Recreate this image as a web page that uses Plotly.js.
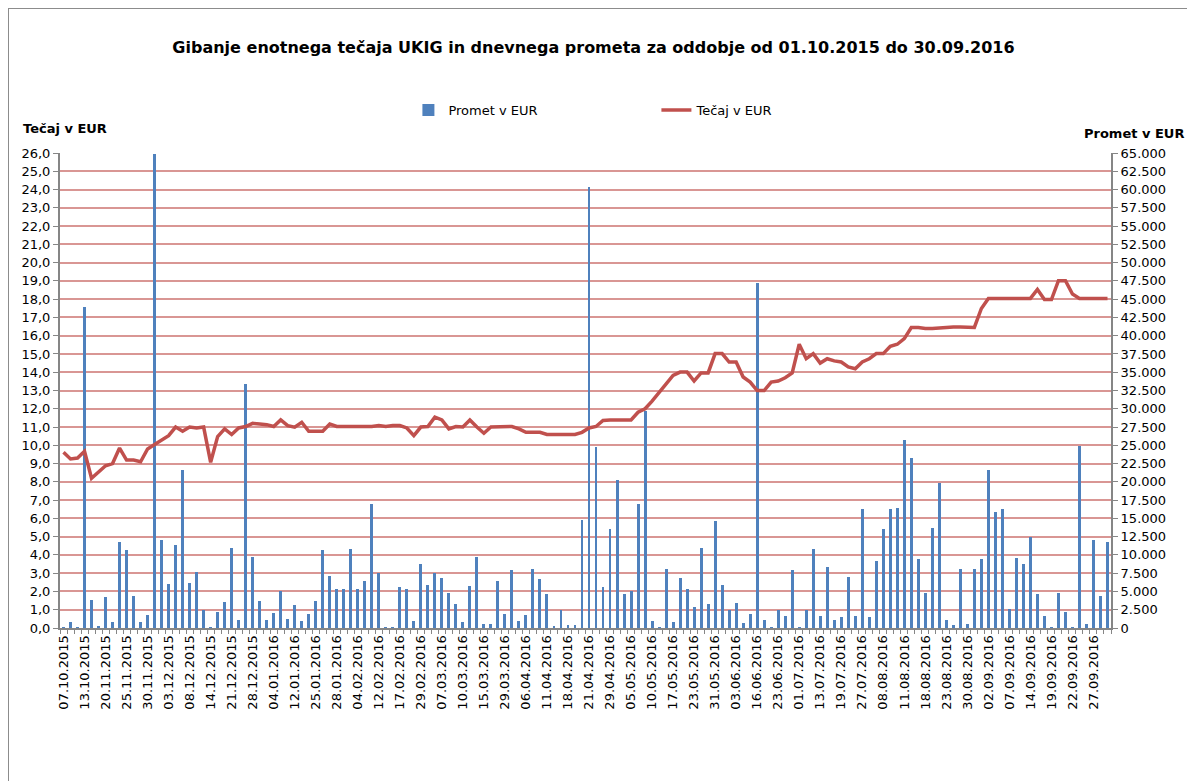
<!DOCTYPE html>
<html>
<head>
<meta charset="utf-8">
<script src="https://cdn.plot.ly/plotly-3.0.1.min.js"></script>
<style>
  html, body { margin: 0; padding: 0; background: #fff; }
  #chart { width: 1187px; height: 781px; }
  #frame { position: absolute; left: 8px; top: 8px; width: 1300px; height: 900px;
           border: 1px solid #8c8c8c; pointer-events: none; }
</style>
</head>
<body>
<div id="chart"></div>
<div id="frame"></div>
<script>
// Tick labels (every 3rd trading day)
const dateLabels = [
  "07.10.2015","13.10.2015","20.11.2015","25.11.2015","30.11.2015","03.12.2015","08.12.2015","14.12.2015","21.12.2015","28.12.2015",
  "04.01.2016","12.01.2016","25.01.2016","28.01.2016","04.02.2016","12.02.2016","17.02.2016","29.02.2016","07.03.2016","10.03.2016",
  "15.03.2016","29.03.2016","06.04.2016","11.04.2016","18.04.2016","21.04.2016","29.04.2016","05.05.2016","10.05.2016","17.05.2016",
  "23.05.2016","31.05.2016","03.06.2016","16.06.2016","23.06.2016","01.07.2016","13.07.2016","19.07.2016","27.07.2016","08.08.2016",
  "11.08.2016","18.08.2016","23.08.2016","30.08.2016","02.09.2016","07.09.2016","14.09.2016","19.09.2016","22.09.2016","27.09.2016"
];
const labelEvery = 3;

// Promet v EUR (daily turnover)
const promet = [
  200, 800, 150, 43900, 3900, 300, 4200, 800, 11800, 10700, 4400, 800, 1800, 64800, 12100, 6000, 11300, 21600, 6200, 7700,
  2500, 100, 2200, 3600, 11000, 1100, 33400,
  9750, 3750, 1150, 2060, 5130, 1280, 3110, 1000, 1920, 3750, 10670, 7100, 5400, 5400, 10850, 5400, 6500, 16940, 7560,
  100, 100, 5590, 5270, 1000, 8700,
  5950, 7560, 6820, 4810, 3300, 820, 5720, 9750, 550, 550, 6500, 1920, 7870, 1000, 1740, 8010, 6640, 4670, 230, 2520,
  370, 370, 14790, 60350, 24820, 5590,
  13600, 20240, 4670, 5130, 16940, 29670, 920, 100, 8010, 820, 6780, 5270, 2840, 10990, 3300, 14650, 5860, 2520, 3430, 690,
  1920, 47250, 1140, 100, 2520, 1600,
  7870, 100, 2520, 10850, 1600, 8380, 1140, 1470, 7000, 1600, 16250, 1470, 9160, 13600, 16350, 16480, 25730, 23260, 9480, 4810,
  13740, 19780, 1140, 370, 8010,
  550, 8010, 9390, 21660, 15890, 16350, 2660, 9520, 8790, 12450, 4670, 1600, 100, 4810, 2200, 100, 24950, 550, 12040, 4350, 11770
];

// Tečaj v EUR (unit price)
const tecaj = [
  9.62, 9.25, 9.30, 9.67, 8.20, 8.55, 8.88, 9.00, 9.85, 9.19, 9.19, 9.10, 9.80, 10.04, 10.30, 10.53, 11.00, 10.77, 11.00, 10.95,
  11.00, 9.07, 10.48, 10.90, 10.59, 10.95, 11.03,
  11.20, 11.17, 11.13, 11.03, 11.39, 11.08, 10.99, 11.26, 10.77, 10.77, 10.77, 11.17, 11.03, 11.03, 11.03, 11.03, 11.03, 11.03, 11.08,
  11.03, 11.08, 11.08, 10.95, 10.53, 11.00,
  11.03, 11.54, 11.39, 10.90, 11.03, 11.00, 11.39, 11.00, 10.66, 11.00, 11.00, 11.03, 11.03, 10.90, 10.71, 10.71, 10.71, 10.59, 10.59, 10.59,
  10.59, 10.59, 10.71, 10.95, 11.03, 11.36,
  11.39, 11.39, 11.39, 11.39, 11.81, 12.00, 12.42, 12.91, 13.41, 13.83, 14.01, 14.01, 13.52, 13.96, 13.96, 15.02, 15.02, 14.56, 14.56, 13.74,
  13.46, 13.00, 13.00, 13.46, 13.52, 13.70,
  13.96, 15.53, 14.74, 15.02, 14.50, 14.74, 14.62, 14.56, 14.29, 14.19, 14.56, 14.74, 15.02, 15.02, 15.42, 15.53, 15.84, 16.45, 16.45, 16.39,
  16.39, 16.43, 16.45, 16.48, 16.48,
  16.45, 16.45, 17.49, 18.04, 18.04, 18.04, 18.04, 18.04, 18.04, 18.04, 18.53, 17.98, 17.98, 19.01, 19.01, 18.28, 18.04, 18.04, 18.04, 18.04, 18.04
];

const idx = promet.map((_, i) => i);
const tickPos = dateLabels.map((_, k) => k * labelEvery);

const FONT = "DejaVu Sans, Verdana, sans-serif";
const GRID = "rgb(217,150,148)";
const AXIS = "#868686";

const traces = [
  {
    type: "bar", name: "Promet v EUR", x: idx, y: promet, yaxis: "y",
    width: 0.42, marker: { color: "#4F81BD", line: { width: 0 } },
    hoverinfo: "y"
  },
  {
    type: "scatter", mode: "lines", name: "Tečaj v EUR", x: idx, y: tecaj, yaxis: "y2",
    line: { color: "#C0504D", width: 3.5 }
  }
];

const layout = {
  width: 1187, height: 781,
  paper_bgcolor: "#fff", plot_bgcolor: "#fff",
  separators: ",.",
  font: { family: FONT, size: 13, color: "#000" },
  margin: { l: 60, r: 76, t: 153, b: 153, pad: 0 },
  showlegend: true,
  title: {
    text: "<b>Gibanje enotnega tečaja UKIG in dnevnega prometa za oddobje od 01.10.2015 do 30.09.2016</b>",
    font: { family: FONT, size: 16, color: "#000" },
    xref: "container", x: 0.5, xanchor: "center",
    yref: "container", y: 1 - 47 / 781, yanchor: "middle"
  },
  legend: {
    orientation: "h", xref: "container", x: 0.553, xanchor: "center",
    yref: "container", y: 1 - 110 / 781, yanchor: "middle",
    font: { family: FONT, size: 13 }, entrywidth: 203, traceorder: "normal",
    bgcolor: "rgba(0,0,0,0)"
  },
  bargap: 0,
  xaxis: {
    type: "linear", range: [-0.5, promet.length - 0.5],
    tickmode: "array", tickvals: tickPos, ticktext: dateLabels, tickangle: -90,
    ticks: "", showgrid: false, zeroline: false,
    showline: true, linecolor: AXIS, linewidth: 2,
    minor: { ticks: "outside", ticklen: 4, tick0: -0.5, dtick: 1, tickcolor: AXIS, tickwidth: 1, showgrid: false },
    tickfont: { family: FONT, size: 13 }
  },
  yaxis: {
    side: "right", range: [0, 65000], dtick: 2500, tick0: 0, tickformat: ",d",
    showgrid: true, gridcolor: GRID, gridwidth: 2, zeroline: false,
    showline: true, linecolor: AXIS, linewidth: 2,
    ticks: "outside", ticklen: 5, tickcolor: AXIS,
    tickfont: { family: FONT, size: 13 }
  },
  yaxis2: {
    overlaying: "y", side: "left", range: [0, 26], dtick: 1, tick0: 0, tickformat: ".1f",
    showgrid: false, zeroline: false,
    showline: true, linecolor: AXIS, linewidth: 2,
    ticks: "outside", ticklen: 5, tickcolor: AXIS,
    tickfont: { family: FONT, size: 13 }
  },
  annotations: [
    { text: "<b>Tečaj v EUR</b>", xref: "paper", yref: "paper", x: -39 / 1051, y: 1 + 25 / 475,
      xanchor: "left", yanchor: "middle", showarrow: false, font: { family: FONT, size: 13 } },
    { text: "<b>Promet v EUR</b>", xref: "paper", yref: "paper", x: 1 + 75 / 1051, y: 1 + 19 / 475,
      xanchor: "right", yanchor: "middle", showarrow: false, font: { family: FONT, size: 13 } }
  ]
};

Plotly.newPlot("chart", traces, layout, { displayModeBar: false, staticPlot: true });
</script>
</body>
</html>
